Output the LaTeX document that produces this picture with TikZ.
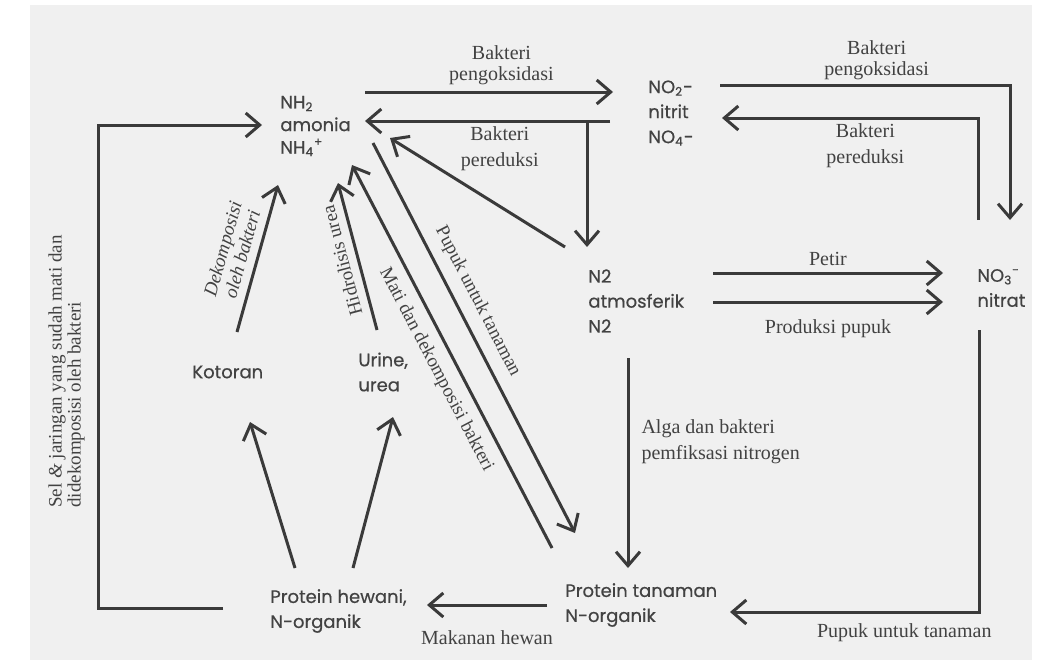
\documentclass[tikz,border=0pt]{standalone}
\usepackage{fontspec}
\setmainfont{Liberation Serif}
\setsansfont{Poppins}[FakeBold=0.6]
\usetikzlibrary{arrows.meta}

\definecolor{paper}{RGB}{240,240,240}
\definecolor{ink}{RGB}{58,58,58}
\definecolor{txt}{RGB}{66,66,66}

\begin{document}
\begin{tikzpicture}[x=0.5pt, y=-0.5pt,
    >={Straight Barb[length=7pt,width=12pt]},
    arr/.style={->, line width=1.5pt, draw=ink},
    chem/.style={font=\sffamily\fontsize{9}{12.5}\selectfont, text=txt,
                 align=left, inner sep=0pt, anchor=west},
    lbl/.style={font=\fontsize{10}{13}\selectfont, text=txt, align=center, inner sep=0pt},
    toplbl/.style={lbl, font=\fontsize{10}{10.5}\selectfont},
    slbl/.style={lbl, font=\fontsize{9.5}{10.5}\selectfont},
]

% ============================ page ======================================
\useasboundingbox (0,0) rectangle (1053,666);
\fill[paper] (30,5) rectangle (1032,660);

% ============================ compounds =================================
\node[chem, font=\sffamily\fontsize{9}{11.3}\selectfont] (nh) at (280,126)
  {NH\textsubscript{2}\\amonia\\NH\textsubscript{4}\textsuperscript{+}};
\node[chem] (nitrit) at (648,113)
  {NO\textsubscript{2}-\\nitrit\\NO\textsubscript{4}-};
\node[chem] (atmo) at (588,301) {N2\\atmosferik\\N2};
\node[chem] (nitrat) at (977,288) {NO\textsubscript{3}\textsuperscript{-}\\nitrat};
\node[chem] (kotoran) at (192,372) {Kotoran};
\node[chem] (urine) at (358,372) {Urine,\\urea};
\node[chem] (hewani) at (270,611) {Protein hewani,\\N-organik};
\node[chem] (tanaman) at (565,605) {Protein tanaman\\N-organik};

% ============================ arrow ends ================================
\coordinate (nhOut)  at (365,92);
\coordinate (nhIn)   at (365,121);
\coordinate (niIn)   at (613,92);
\coordinate (niOut)  at (610,121);
\coordinate (split)  at (587,121);
\coordinate (atTop)  at (587,247);
\coordinate (niOut2) at (720,85);
\coordinate (niIn2)  at (722,118);
\coordinate (naTop)  at (1010,220);
\coordinate (naOut)  at (978,220);
\coordinate (naBot)  at (979,330);
\coordinate (taIn)   at (730,612);

% ============================ nitrification / reduction =================
\draw[arr] (nhOut) -- (niIn)
  node[toplbl, pos=0.55, above=3pt] {Bakteri\\pengoksidasi};
\draw[arr] (niOut) -- (nhIn)
  node[lbl, pos=0.45, below=2pt] {Bakteri\\pereduksi};
\draw[arr] (split) -- (atTop);
\draw[arr] (niOut2) -| (naTop)
  node[toplbl, pos=0.27, above=2pt] {Bakteri\\pengoksidasi};
\draw[arr] (naOut) |- (niIn2)
  node[lbl, pos=0.72, below=2pt] {Bakteri\\pereduksi};

% ============================ N2 -> nitrat ==============================
\draw[arr] (713,273) -- (943,273) node[lbl, midway, above=3pt] {Petir};
\draw[arr] (713,302) -- (943,302) node[lbl, midway, below=8pt] {Produksi pupuk};

% ============================ towards plants ============================
\draw[arr] (naBot) |- (taIn)
  node[lbl, pos=0.65, below=5pt] {Pupuk untuk tanaman};
\draw[arr] (628,358) -- (628,568)
  node[lbl, pos=0.4, right=6pt, align=left] {Alga dan bakteri\\pemfiksasi nitrogen};
\draw[arr] (565,247) -- (390,138);
\draw[arr] (373,143) -- (575,533)
  node[slbl, pos=0.43, sloped, above=5pt] {Pupuk untuk tanaman};
\draw[arr] (552,548) -- (352,165)
  node[slbl, pos=0.49, sloped, below=5pt] {Mati dan dekomposisi bakteri};

% ============================ animals ===================================
\draw[arr] (547,605) -- (427,605) node[lbl, midway, below=12pt] {Makanan hewan};
\draw[arr] (295,568) -- (250,422);
\draw[arr] (353,568) -- (393,417);
\draw[arr] (377,330) -- (338,183)
  node[slbl, midway, sloped, allow upside down, above=4pt] {Hidrolisis urea};
\draw[arr] (237,332) -- (278,185)
  node[slbl, midway, sloped, allow upside down, above=4pt, font=\itshape\fontsize{9.5}{10}\selectfont]
  {Dekomposisi\\oleh bakteri};

% ============================ dead cells loop ===========================
\draw[arr] (223,608) -- (98,608) -- (98,125) -- (262,125);
\node[slbl, rotate=90, align=left, anchor=south west, font=\fontsize{9.5}{9.5}\selectfont] (sel) at (85,508)
  {Sel \textit{\&} jaringan yang sudah mati dan\\didekomposisi oleh bakteri};

\end{tikzpicture}
\end{document}
